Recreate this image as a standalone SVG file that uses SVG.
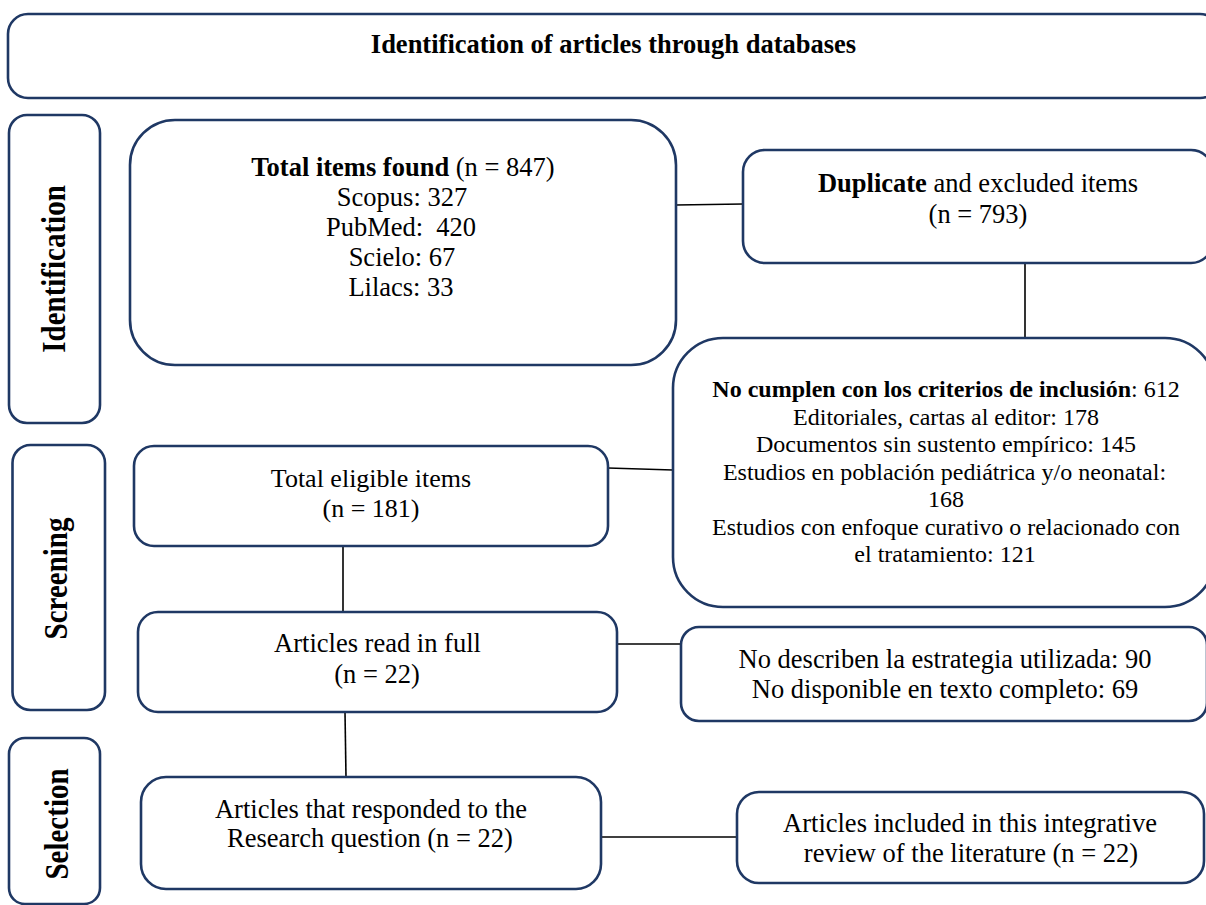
<svg xmlns="http://www.w3.org/2000/svg" width="1206" height="905" viewBox="0 0 1206 905">
<style>
.box{fill:#fff;stroke:#1f3864;stroke-width:2.6}
.t{font-family:"Liberation Serif","Times New Roman",serif;fill:#000;text-anchor:middle}
.b{font-weight:bold}
.lbl{font-family:"Liberation Serif","Times New Roman",serif;font-weight:bold;font-size:29px;fill:#000;text-anchor:middle}
.c{stroke:#000;stroke-width:1.6;fill:none}
</style>
<rect width="1206" height="905" fill="#fff"/>
<g id="connectors">
<line class="c" x1="676" y1="205" x2="743" y2="204"/>
<line class="c" x1="1025" y1="263" x2="1025" y2="338"/>
<line class="c" x1="608" y1="468" x2="673" y2="470"/>
<line class="c" x1="343" y1="546" x2="343" y2="612"/>
<line class="c" x1="617" y1="644" x2="681" y2="644"/>
<line class="c" x1="345" y1="712" x2="346" y2="777"/>
<line class="c" x1="601" y1="837" x2="737" y2="837"/>
</g>
<g id="header">
<rect class="box" x="8" y="14" width="1212" height="84" rx="20"/>
<text class="t b" x="613.5" y="53" font-size="26.5">Identification of articles through databases</text>
</g>
<g id="label-identification">
<rect class="box" x="9" y="115" width="91" height="308" rx="18"/>
<text class="lbl" transform="translate(65,269) scale(1.15,1) rotate(-90)">Identification</text>
</g>
<g id="label-screening">
<rect class="box" x="12.5" y="445" width="92.5" height="265" rx="18"/>
<text class="lbl" transform="translate(67,578.5) scale(1.15,1) rotate(-90)">Screening</text>
</g>
<g id="label-selection">
<rect class="box" x="9" y="738" width="91" height="166" rx="16"/>
<text class="lbl" transform="translate(68,824) scale(1.15,1) rotate(-90)">Selection</text>
</g>
<g id="total-items">
<rect class="box" x="130" y="120" width="546" height="245" rx="45"/>
<g class="t" font-size="26.5">
<text x="403" y="176"><tspan class="b">Total items found</tspan> (n = 847)</text>
<text x="402" y="206">Scopus: 327</text>
<text x="401" y="236" xml:space="preserve">PubMed:  420</text>
<text x="402" y="266">Scielo: 67</text>
<text x="401" y="296">Lilacs: 33</text>
</g>
</g>
<g id="duplicate">
<rect class="box" x="743" y="150" width="470" height="113" rx="22"/>
<text class="t" x="978" y="192" font-size="26.5"><tspan class="b">Duplicate</tspan> and excluded items</text>
<text class="t" x="978" y="223" font-size="26.5">(n = 793)</text>
</g>
<g id="exclusion-criteria">
<rect class="box" x="673" y="338" width="542" height="269" rx="50"/>
<g class="t" font-size="24">
<text x="946" y="397"><tspan class="b">No cumplen con los criterios de inclusión</tspan>: 612</text>
<text x="946" y="425">Editoriales, cartas al editor: 178</text>
<text x="946" y="452">Documentos sin sustento empírico: 145</text>
<text x="944.5" y="480">Estudios en población pediátrica y/o neonatal:</text>
<text x="946" y="507">168</text>
<text x="946" y="535">Estudios con enfoque curativo o relacionado con</text>
<text x="945" y="562">el tratamiento: 121</text>
</g>
</g>
<g id="eligible">
<rect class="box" x="134" y="446" width="474" height="100" rx="20"/>
<text class="t" x="371" y="487" font-size="26">Total eligible items</text>
<text class="t" x="371" y="517" font-size="26">(n = 181)</text>
</g>
<g id="read-full">
<rect class="box" x="138" y="612" width="479" height="100" rx="20"/>
<text class="t" x="377.5" y="652" font-size="26.5">Articles read in full</text>
<text class="t" x="377" y="683" font-size="26.5">(n = 22)</text>
</g>
<g id="not-described">
<rect class="box" x="681" y="627" width="526" height="94" rx="18"/>
<text class="t" x="945" y="668" font-size="26.5">No describen la estrategia utilizada: 90</text>
<text class="t" x="945" y="698" font-size="26.5">No disponible en texto completo: 69</text>
</g>
<g id="responded">
<rect class="box" x="141" y="777" width="460" height="112" rx="25"/>
<text class="t" x="371" y="818" font-size="26.5">Articles that responded to the</text>
<text class="t" x="370" y="847" font-size="26.5">Research question (n = 22)</text>
</g>
<g id="included">
<rect class="box" x="737" y="792" width="467" height="91" rx="22"/>
<text class="t" x="970" y="832" font-size="26.5">Articles included in this integrative</text>
<text class="t" x="971" y="862" font-size="26.5">review of the literature (n = 22)</text>
</g>
</svg>
